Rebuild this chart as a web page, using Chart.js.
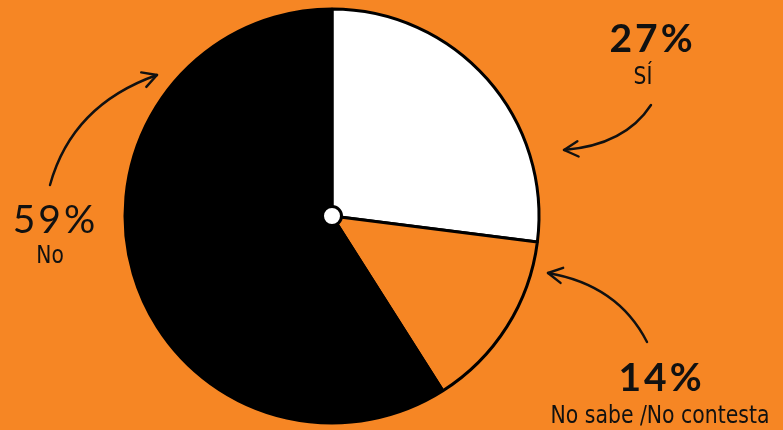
<!DOCTYPE html>
<html>
<head>
<meta charset="utf-8">
<script src="https://cdn.jsdelivr.net/npm/chart.js@4.4.1/dist/chart.umd.min.js"></script>
<style>
  html, body { margin: 0; padding: 0; background: #F68624; }
  #wrap { width: 783px; height: 430px; position: relative; }
</style>
</head>
<body>
<div id="wrap"><canvas id="myChart" width="783" height="430"></canvas></div>
<script>
var ORANGE = '#F68624';

// data
var categories = ['SÍ', 'No sabe /No contesta', 'No'];
var values = [27, 14, 59];
var pctLabels = ['27%', '14%', '59%'];
var sliceColors = ['#ffffff', ORANGE, '#000000'];

// where each callout sits (centres, baselines, target widths) and its arrow
var callouts = [
    { x: 651, pctY: 52, nameX: 643, nameY: 84, pctWeight: 'bold', nameW: 0,
      arrow: { from: [651, 105], ctrl: [625, 145], to: [564, 150] } },
    { x: 660, pctY: 391, nameX: 660, nameY: 423, pctWeight: 'bold', nameW: 219,
      arrow: { from: [647, 342], ctrl: [618, 285], to: [548, 273] } },
    { x: 54, pctY: 233, nameX: 50, nameY: 263, pctWeight: 'normal', nameW: 0,
      arrow: { from: [50, 185], ctrl: [72, 105], to: [157, 75] } }
];

function drawArrow(c, a) {
    c.save();
    c.strokeStyle = '#111';
    c.lineWidth = 2.4;
    c.lineCap = 'round';
    c.lineJoin = 'round';
    c.beginPath();
    c.moveTo(a.from[0], a.from[1]);
    c.quadraticCurveTo(a.ctrl[0], a.ctrl[1], a.to[0], a.to[1]);
    c.stroke();
    // open chevron head, along the curve's end tangent
    var ang = Math.atan2(a.to[1] - a.ctrl[1], a.to[0] - a.ctrl[0]);
    var len = 16, spread = 0.5;
    c.beginPath();
    c.moveTo(a.to[0] - len * Math.cos(ang - spread), a.to[1] - len * Math.sin(ang - spread));
    c.lineTo(a.to[0], a.to[1]);
    c.lineTo(a.to[0] - len * Math.cos(ang + spread), a.to[1] - len * Math.sin(ang + spread));
    c.stroke();
    c.restore();
}

var decorations = {
    id: 'decorations',
    beforeDraw: function(chart) {
        var c = chart.ctx;
        c.save();
        c.fillStyle = ORANGE;
        c.fillRect(0, 0, chart.width, chart.height);
        c.restore();
    },
    afterDraw: function(chart) {
        var c = chart.ctx;
        var arc = chart.getDatasetMeta(0).data[0];
        // little hub in the middle
        c.save();
        c.beginPath();
        c.arc(arc.x, arc.y, 9.5, 0, Math.PI * 2);
        c.fillStyle = '#fff';
        c.fill();
        c.lineWidth = 3;
        c.strokeStyle = '#000';
        c.stroke();
        c.restore();

        callouts.forEach(function(o, i) {
            c.save();
            c.fillStyle = '#111';
            c.textAlign = 'center';
            c.textBaseline = 'alphabetic';
            c.font = o.pctWeight + ' 39px Lato, "Open Sans", sans-serif';
            c.letterSpacing = '3px';
            c.fillText(pctLabels[i], o.x + 1.5, o.pctY);
            c.letterSpacing = '0px';
            c.font = '25px "Liberation Sans Narrow", "DejaVu Sans Condensed", sans-serif';
            var w = c.measureText(categories[i]).width;
            var sx = o.nameW ? o.nameW / w : 0.9;
            c.translate(o.nameX, o.nameY);
            c.scale(sx, 1);
            c.fillText(categories[i], 0, 0);
            c.restore();
            drawArrow(c, o.arrow);
        });
    }
};

var ctx = document.getElementById('myChart').getContext('2d');

var myChart = new Chart(ctx, {
    type: 'pie',
    data: {
        labels: categories,
        datasets: [{
            data: values,
            backgroundColor: sliceColors,
            borderColor: '#000',
            borderWidth: 3,
            radius: 207
        }]
    },
    options: {
        responsive: false,
        animation: false,
        layout: {
            padding: { left: 0, right: 119, top: 2, bottom: 0 }
        },
        plugins: {
            legend: { display: false },
            tooltip: { enabled: false }
        }
    },
    plugins: [decorations]
});
</script>
</body>
</html>
